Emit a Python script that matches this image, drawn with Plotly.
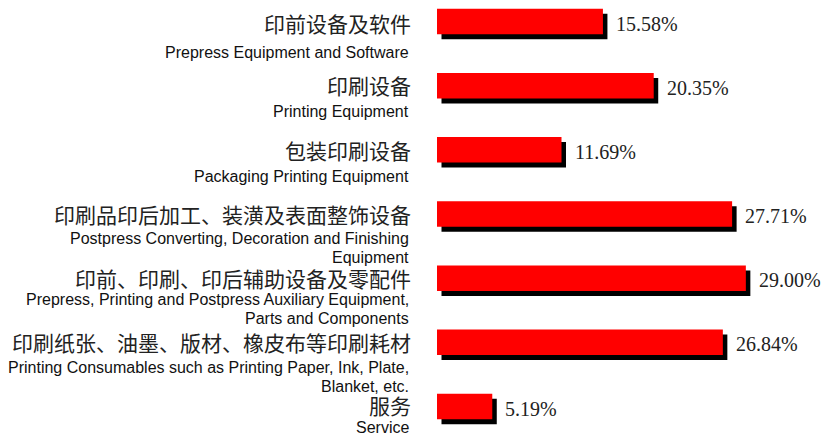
import plotly.graph_objects as go

cats_zh = ["印前设备及软件", "印刷设备", "包装印刷设备",
           "印刷品印后加工、装潢及表面整饰设备", "印前、印刷、印后辅助设备及零配件",
           "印刷纸张、油墨、版材、橡皮布等印刷耗材", "服务"]
cats_en = ["Prepress Equipment and Software", "Printing Equipment",
           "Packaging Printing Equipment",
           "Postpress Converting, Decoration and Finishing<br>Equipment",
           "Prepress, Printing and Postpress Auxiliary Equipment,<br>Parts and Components",
           "Printing Consumables such as Printing Paper, Ink, Plate,<br>Blanket, etc.",
           "Service"]
values = [15.58, 20.35, 11.69, 27.71, 29.00, 26.84, 5.19]
value_labels = ["15.58%", "20.35%", "11.69%", "27.71%", "29.00%", "26.84%", "5.19%"]

idx = list(range(len(values)))
PX_PER_UNIT_Y = 64.17
PX_PER_UNIT_X = 10.65
bar_w = 25.5 / PX_PER_UNIT_Y
sh_dy = 5 / PX_PER_UNIT_Y
sh_dx = 4.5 / PX_PER_UNIT_X

fig = go.Figure()
fig.add_trace(go.Bar(x=values, y=[i + sh_dy for i in idx], base=sh_dx, orientation="h",
                     width=bar_w, marker=dict(color="#000000", line_width=0),
                     hoverinfo="skip", showlegend=False))
fig.add_trace(go.Bar(x=values, y=idx, orientation="h", width=bar_w,
                     marker=dict(color="#ff0000", line_width=0), showlegend=False))

annotations = []
en_offset = [30.5, 26.3, 26.2, 24, 21.8, 25.6, 21]
zh_offset = [1, -1, 0, 0, 0, 0, -1.5]
LINE_GAP = 19
for i in idx:
    annotations.append(dict(x=0, xref="paper", y=i, yref="y", xanchor="right", yanchor="middle",
                            xshift=-24, yshift=-zh_offset[i], text=cats_zh[i], showarrow=False,
                            font=dict(family="Noto Sans CJK SC", size=21, color="#222222")))
    for k, line in enumerate(cats_en[i].split("<br>")):
        annotations.append(dict(x=0, xref="paper", y=i, yref="y", xanchor="right",
                                yanchor="middle", xshift=-26,
                                yshift=-(en_offset[i] + k * LINE_GAP), text=line,
                                showarrow=False,
                                font=dict(family="Liberation Sans", size=16, color="#111111")))
    annotations.append(dict(x=values[i], xref="x", y=i, yref="y", xanchor="left", yanchor="middle",
                            xshift=11, yshift=-2, text=value_labels[i], showarrow=False,
                            font=dict(family="Liberation Serif", size=20, color="#222222")))

fig.update_layout(
    width=832, height=435,
    margin=dict(l=437, r=0, t=0, b=0),
    paper_bgcolor="white", plot_bgcolor="white",
    barmode="overlay",
    xaxis=dict(range=[0, 395 / PX_PER_UNIT_X], visible=False, fixedrange=True),
    yaxis=dict(range=[6 + 28.5 / PX_PER_UNIT_Y, -21.5 / PX_PER_UNIT_Y], visible=False,
               fixedrange=True),
    annotations=annotations,
    showlegend=False,
)

fig.write_html("out.html", config={"displayModeBar": False},
               post_script="document.body.style.margin='0';")
